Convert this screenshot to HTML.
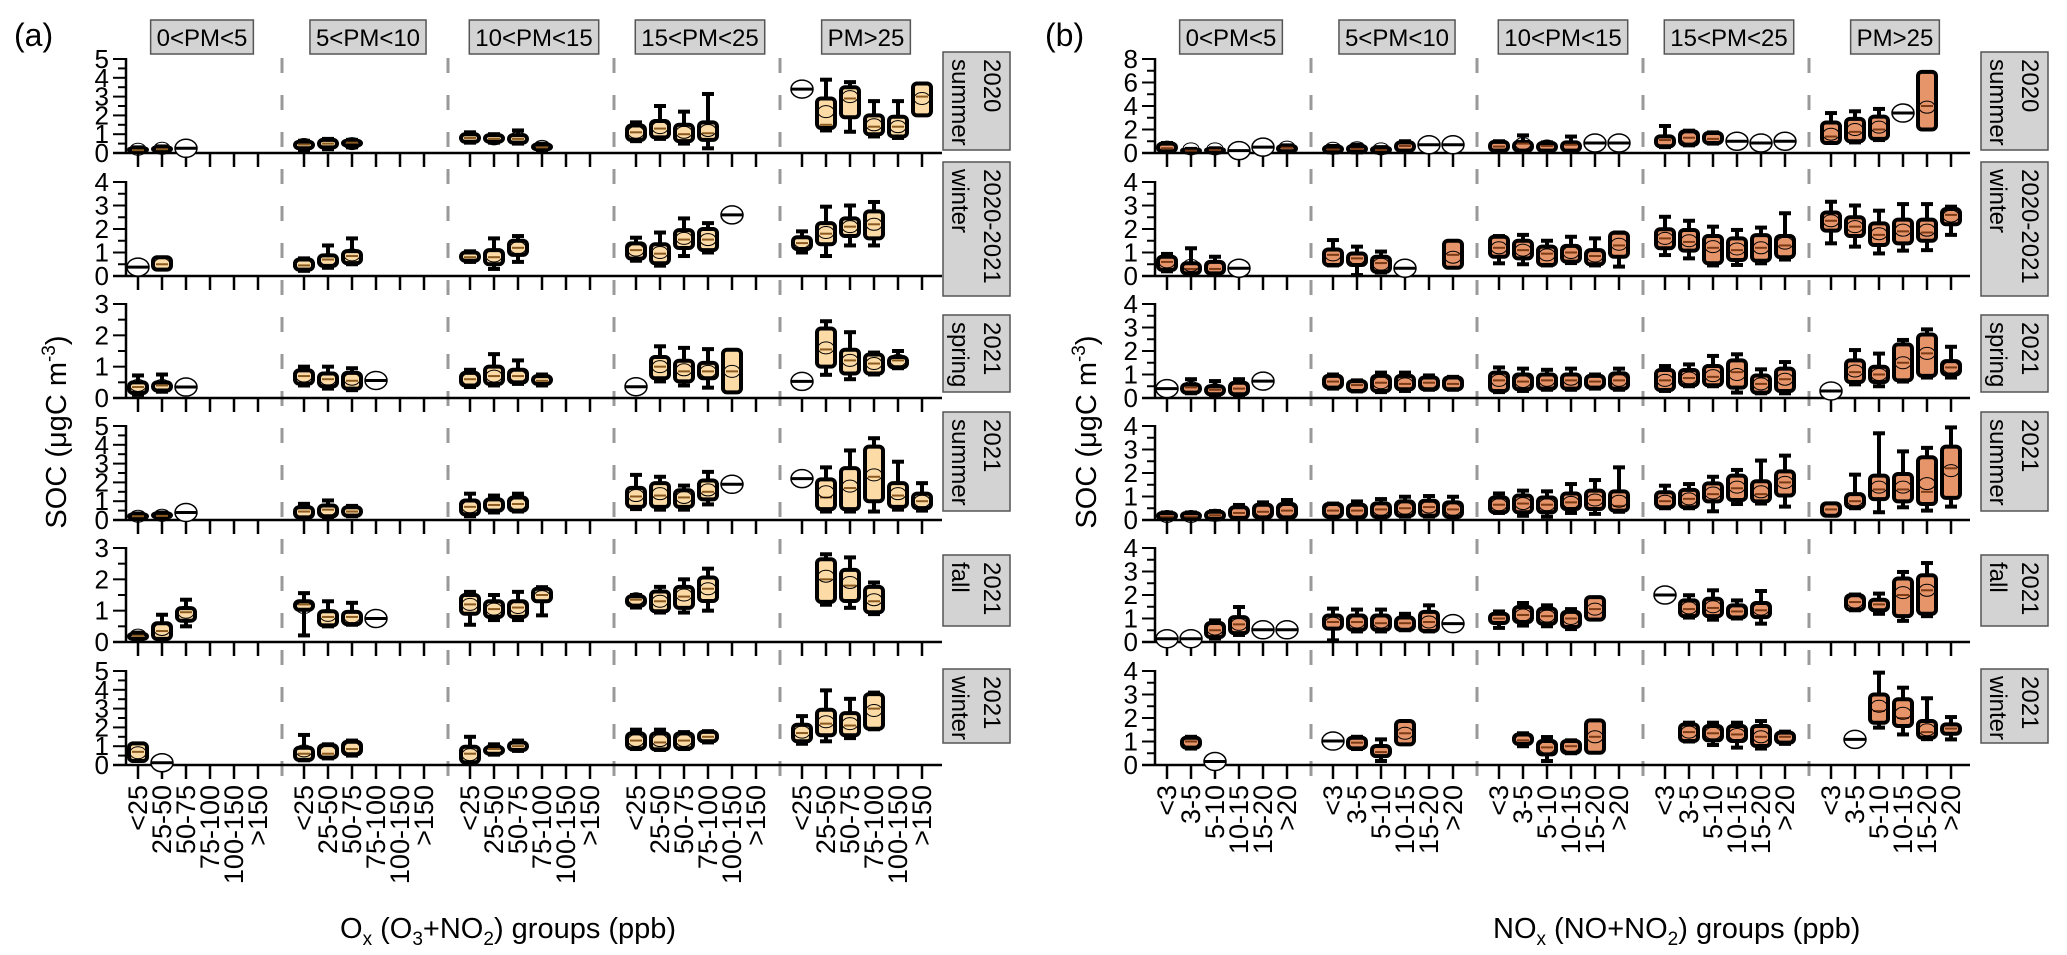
<!DOCTYPE html>
<html><head><meta charset="utf-8"><title>SOC box plots</title>
<style>
html,body{margin:0;padding:0;background:#fff;}
svg{display:block;font-family:"Liberation Sans",Arial,sans-serif;}
</style></head>
<body>
<svg id="chart" width="2067" height="955" viewBox="0 0 2067 955" xmlns="http://www.w3.org/2000/svg">
<text x="14" y="46" font-size="32">(a)</text>
<text x="1045" y="46" font-size="32">(b)</text>
<text transform="translate(66,432) rotate(-90)" font-size="29" text-anchor="middle">SOC (μgC m<tspan dy="-11" font-size="19">-3</tspan><tspan dy="11">)</tspan></text>
<text transform="translate(1096,432) rotate(-90)" font-size="29" text-anchor="middle">SOC (μgC m<tspan dy="-11" font-size="19">-3</tspan><tspan dy="11">)</tspan></text>
<text x="340" y="938" font-size="29">O<tspan dy="7" font-size="19">x</tspan><tspan dy="-7"> (O</tspan><tspan dy="7" font-size="19">3</tspan><tspan dy="-7">+NO</tspan><tspan dy="7" font-size="19">2</tspan><tspan dy="-7">) groups (ppb)</tspan></text>
<text x="1493" y="938" font-size="29">NO<tspan dy="7" font-size="19">x</tspan><tspan dy="-7"> (NO+NO</tspan><tspan dy="7" font-size="19">2</tspan><tspan dy="-7">) groups (ppb)</tspan></text>
</svg>
<script>
// ---------- data ----------
const pmGroups = ["0<PM<5","5<PM<10","10<PM<15","15<PM<25","PM>25"];
const oxCats = ["<25","25-50","50-75","75-100","100-150",">150"];
const noxCats = ["<3","3-5","5-10","10-15","15-20",">20"];
const seasonLine1 = ["2020","2020-2021","2021","2021","2021","2021"];
const seasonLine2 = ["summer","winter","spring","summer","fall","winter"];
const yMaxA = [5,4,3,5,3,5];
const yMaxB = [8,4,4,4,4,4];
// each box: [lowWhisker, q1, median, q3, highWhisker, mean]; number = single point
const a_summer2020 = [
 [[0.05,0.1,0.15,0.25,0.3,0.2],[0.05,0.12,0.2,0.3,0.35,0.25],0.25,null,null,null],
 [[0.15,0.25,0.45,0.6,0.65,0.45],[0.2,0.3,0.5,0.7,0.75,0.5],[0.3,0.4,0.55,0.65,0.7,0.5],null,null,null],
 [[0.55,0.6,0.8,1.0,1.1,0.8],[0.55,0.6,0.75,0.95,1.0,0.75],[0.5,0.55,0.75,0.95,1.2,0.8],[0.15,0.2,0.3,0.45,0.5,0.35],null,null],
 [[0.63,0.7,1.1,1.46,1.63,1.1],[0.75,0.83,1.3,1.7,2.5,1.35],[0.5,0.63,1.0,1.5,2.2,1.1],[0.25,0.7,1.05,1.63,3.14,1.2],null,null],
 [3.4,[1.2,1.33,1.5,2.9,3.9,2.2],[1.13,1.9,2.9,3.5,3.77,3.0],[0.88,1.0,1.4,2.0,2.76,1.5],[0.8,0.88,1.4,1.93,2.76,1.4],[null,2.0,3.0,3.7,null,2.9]]
];
const a_winter2020 = [
 [0.38,[null,0.27,0.5,0.8,null,0.5],null,null,null,null],
 [[0.22,0.27,0.45,0.7,0.75,0.45],[0.35,0.43,0.7,0.88,1.3,0.7],[0.5,0.55,0.85,1.06,1.6,0.9],null,null,null],
 [[0.6,0.65,0.8,1.0,1.05,0.8],[0.3,0.5,0.8,1.1,1.6,0.85],[0.6,0.9,1.2,1.5,1.7,1.2],null,null,null],
 [[0.65,0.74,1.1,1.39,1.63,1.1],[0.44,0.54,0.95,1.35,1.85,1.0],[0.85,1.19,1.55,1.95,2.45,1.6],[1.0,1.1,1.55,2.0,2.25,1.55],2.6,null],
 [[1.0,1.15,1.4,1.65,1.9,1.45],[0.85,1.35,1.8,2.25,2.95,1.85],[1.3,1.7,2.1,2.45,3.0,2.1],[1.3,1.6,2.2,2.75,3.15,2.2],null,null]
];
const a_spring2021 = [
 [[0.1,0.16,0.35,0.5,0.72,0.4],[0.2,0.24,0.4,0.5,0.75,0.4],0.35,null,null,null],
 [[0.4,0.46,0.7,0.88,1.0,0.7],[0.3,0.37,0.6,0.78,1.0,0.6],[0.25,0.3,0.55,0.8,0.95,0.6],0.56,null,null],
 [[0.35,0.4,0.6,0.8,0.9,0.6],[0.4,0.45,0.7,1.0,1.4,0.7],[0.45,0.5,0.7,0.9,1.2,0.7],[0.4,0.45,0.55,0.7,0.75,0.55],null,null],
 [0.36,[0.53,0.63,1.0,1.31,1.65,1.0],[0.4,0.53,0.85,1.19,1.6,0.9],[0.33,0.63,0.85,1.12,1.56,0.85],[null,0.18,0.85,1.54,null,0.85],null],
 [0.53,[0.74,1.0,1.55,2.22,2.45,1.6],[0.6,0.78,1.2,1.54,2.1,1.2],[0.75,0.78,1.1,1.39,1.45,1.1],[0.95,0.98,1.2,1.31,1.5,1.2],null]
];
const a_summer2021 = [
 [[0.05,0.1,0.2,0.3,0.35,0.2],[0.08,0.15,0.22,0.35,0.4,0.25],0.4,null,null,null],
 [[0.1,0.14,0.45,0.68,0.86,0.45],[0.15,0.2,0.55,0.77,1.04,0.55],[0.2,0.23,0.45,0.68,0.75,0.45],null,null,null],
 [[0.2,0.3,0.7,1.04,1.4,0.7],[0.4,0.5,0.8,1.1,1.3,0.8],[0.45,0.5,0.85,1.2,1.4,0.85],null,null,null],
 [[0.58,0.7,1.25,1.71,2.4,1.3],[0.55,0.7,1.3,1.96,2.3,1.4],[0.55,0.7,1.2,1.58,1.83,1.2],[0.83,1.1,1.5,2.1,2.56,1.6],1.9,null],
 [2.2,[0.45,0.58,1.2,2.16,2.8,1.5],[0.45,0.58,1.7,2.76,3.7,1.8],[0.45,1.0,2.3,3.9,4.35,2.4],[0.55,0.7,1.3,1.96,3.1,1.4],[0.5,0.63,1.0,1.4,1.96,1.0]]
];
const a_fall2021 = [
 [[0.08,0.1,0.2,0.26,0.3,0.22],[0.05,0.1,0.35,0.6,0.87,0.4],[0.5,0.68,0.95,1.08,1.35,0.95],null,null,null],
 [[0.21,1.03,1.2,1.3,1.56,1.1],[0.5,0.53,0.8,0.98,1.3,0.85],[0.55,0.57,0.8,0.96,1.25,0.8],0.75,null,null],
 [[0.55,0.9,1.2,1.5,1.6,1.2],[0.7,0.8,1.05,1.3,1.5,1.05],[0.7,0.8,1.1,1.3,1.6,1.1],[0.85,1.3,1.5,1.7,1.75,1.45],null,null],
 [[1.1,1.16,1.35,1.46,1.5,1.38],[0.94,0.98,1.3,1.61,1.76,1.3],[0.94,1.09,1.45,1.76,2.0,1.5],[1.0,1.31,1.7,2.06,2.34,1.7],null,null],
 [null,[1.19,1.28,2.0,2.64,2.8,2.1],[1.09,1.31,1.8,2.3,2.7,1.9],[0.89,0.95,1.3,1.76,1.9,1.35],null,null]
];
const a_winter2021 = [
 [[null,0.21,0.7,1.15,null,0.65],0.12,null,null,null,null],
 [[0.25,0.27,0.6,0.92,1.6,0.75],[0.35,0.39,0.6,1.06,1.1,0.7],[0.5,0.57,0.85,1.24,1.3,0.9],null,null,null],
 [[0.1,0.14,0.6,0.97,1.5,0.55],[0.55,0.6,0.85,0.95,1.1,0.85],[0.75,0.8,1.0,1.2,1.3,1.0],null,null,null],
 [[0.85,0.88,1.3,1.68,1.88,1.3],[0.8,0.83,1.2,1.68,1.88,1.3],[0.85,0.88,1.3,1.68,1.75,1.3],[1.2,1.26,1.5,1.76,1.8,1.5],null,null],
 [[1.13,1.26,1.7,2.14,2.6,1.75],[1.26,1.58,2.2,2.94,3.97,2.3],[1.43,1.58,2.1,2.76,3.52,2.2],[1.9,1.93,3.0,3.77,3.85,2.9],null,null]
];
const b_summer2020 = [
 [[0.1,0.14,0.4,0.8,0.85,0.5],[0.05,0.1,0.2,0.3,0.35,0.35],[0.05,0.1,0.25,0.35,0.4,0.35],0.2,0.5,[0.1,0.15,0.45,0.6,0.65,0.5]],
 [[0.05,0.1,0.3,0.55,0.6,0.4],[0.05,0.1,0.35,0.6,0.7,0.45],[0.05,0.1,0.25,0.45,0.5,0.35],[0.15,0.2,0.6,0.9,1.0,0.6],0.7,0.7],
 [[0.15,0.2,0.55,0.95,1.0,0.6],[0.15,0.2,0.8,0.95,1.5,0.8],[0.15,0.2,0.6,0.85,0.9,0.6],[0.1,0.2,0.7,0.9,1.4,0.5],0.85,0.85],
 [[0.5,0.57,1.1,1.42,2.3,1.0],[0.65,0.71,1.3,1.84,1.9,1.3],[0.8,0.85,1.2,1.7,1.75,1.3],1.0,0.85,1.0],
 [[0.85,0.85,1.4,2.6,3.4,1.6],[0.9,1.0,1.8,2.9,3.55,2.0],[1.1,1.2,2.0,3.1,3.75,2.2],3.4,[null,2.0,4.0,6.9,null,3.9],null]
];
const b_winter2020 = [
 [[0.2,0.26,0.6,0.82,0.94,0.6],[0.1,0.11,0.3,0.54,1.18,0.45],[0.1,0.11,0.3,0.6,0.82,0.35],0.33,null,null],
 [[0.45,0.47,0.9,1.13,1.53,0.9],[0.04,0.47,0.75,0.96,1.25,0.75],[0.15,0.18,0.55,0.82,1.04,0.5],0.33,null,[null,0.35,0.9,1.5,null,0.8]],
 [[0.54,0.82,1.2,1.67,1.7,1.2],[0.5,0.75,1.1,1.5,1.75,1.1],[0.45,0.47,0.95,1.25,1.5,0.9],[0.55,0.61,1.0,1.28,1.67,1.0],[0.45,0.5,0.85,1.1,1.6,0.85],[0.4,0.82,1.3,1.84,1.85,1.35]],
 [[0.89,1.18,1.6,1.99,2.52,1.6],[0.75,1.08,1.45,1.96,2.35,1.5],[0.45,0.54,1.2,1.7,2.1,1.25],[0.47,0.68,1.1,1.6,1.96,1.15],[0.54,0.65,1.2,1.74,2.06,1.2],[0.7,0.8,1.3,1.7,2.67,1.4]],
 [[1.39,1.93,2.35,2.7,3.16,2.35],[1.25,1.7,2.1,2.5,3.0,2.1],[0.96,1.32,1.75,2.24,2.78,1.8],[1.08,1.39,1.9,2.4,3.06,1.95],[1.1,1.5,1.85,2.4,3.06,1.95],[1.75,2.2,2.6,2.85,2.95,2.55]]
];
const b_spring2021 = [
 [0.4,[0.2,0.23,0.45,0.58,0.8,0.45],[0.1,0.16,0.35,0.5,0.72,0.35],[0.12,0.16,0.4,0.65,0.8,0.4],0.72,null],
 [[0.4,0.44,0.7,0.94,1.0,0.7],[0.28,0.3,0.55,0.72,0.75,0.55],[0.25,0.3,0.65,0.94,1.08,0.65],[0.3,0.37,0.6,0.94,1.08,0.6],[0.35,0.37,0.65,0.87,0.96,0.65],[0.35,0.37,0.6,0.87,0.9,0.6]],
 [[0.25,0.3,0.75,1.08,1.3,0.75],[0.3,0.37,0.7,1.0,1.25,0.7],[0.35,0.4,0.75,1.0,1.2,0.75],[0.35,0.4,0.75,1.0,1.25,0.8],[0.4,0.44,0.7,0.94,1.0,0.7],[0.35,0.4,0.75,1.05,1.25,0.75]],
 [[0.3,0.34,0.75,1.19,1.36,0.75],[0.5,0.54,0.85,1.19,1.43,0.85],[0.5,0.54,0.9,1.36,1.79,0.95],[0.23,0.44,1.1,1.6,1.86,1.0],[0.2,0.23,0.6,0.96,1.22,0.6],[0.2,0.3,0.8,1.25,1.53,0.8]],
 [0.3,[0.58,0.68,1.1,1.6,2.04,1.15],[0.5,0.68,1.0,1.33,1.89,1.0],[0.7,0.75,1.5,2.28,2.47,1.5],[0.87,0.94,1.9,2.7,2.92,1.9],[0.87,1.0,1.3,1.57,2.18,1.3]]
];
const b_summer2021 = [
 [[0.03,0.05,0.15,0.3,0.32,0.15],[0.03,0.05,0.15,0.3,0.32,0.15],[0.03,0.05,0.2,0.35,0.38,0.2],[0.07,0.09,0.3,0.54,0.64,0.3],[0.09,0.11,0.35,0.65,0.75,0.4],[0.09,0.11,0.4,0.68,0.85,0.4]],
 [[0.12,0.14,0.4,0.68,0.7,0.4],[0.09,0.11,0.4,0.65,0.79,0.4],[0.12,0.14,0.45,0.71,0.89,0.45],[0.15,0.18,0.5,0.79,0.99,0.5],[0.15,0.18,0.55,0.82,1.02,0.55],[0.12,0.14,0.45,0.75,0.99,0.45]],
 [[0.3,0.33,0.65,0.96,1.13,0.65],[0.18,0.33,0.7,1.04,1.25,0.7],[0.14,0.33,0.65,0.96,1.22,0.65],[0.3,0.47,0.75,1.13,1.53,0.75],[0.26,0.47,0.85,1.25,1.7,0.85],[0.35,0.4,0.6,1.22,2.24,0.8]],
 [[0.5,0.54,0.8,1.18,1.46,0.8],[0.5,0.54,0.9,1.28,1.53,0.9],[0.37,0.79,1.1,1.56,1.84,1.15],[0.68,0.85,1.35,1.89,2.13,1.4],[0.7,0.79,1.1,1.65,2.53,1.2],[0.57,1.04,1.6,2.07,2.74,1.6]],
 [[null,0.18,0.45,0.71,null,0.45],[0.5,0.54,0.8,1.1,1.93,0.85],[0.33,0.89,1.3,1.89,3.69,1.4],[0.54,0.79,1.3,1.96,2.92,1.4],[0.4,0.68,1.2,2.67,3.07,1.55],[0.57,0.94,2.2,3.12,3.94,2.1]]
];
const b_fall2021 = [
 [0.14,0.14,[0.15,0.21,0.5,0.81,0.92,0.55],[0.3,0.38,0.75,1.06,1.49,0.75],0.52,0.52],
 [[0.07,0.57,0.85,1.13,1.42,0.8],[0.45,0.52,0.85,1.13,1.38,0.85],[0.45,0.52,0.8,1.13,1.38,0.85],[0.5,0.52,0.8,1.04,1.2,0.8],[0.45,0.47,0.85,1.28,1.56,0.85],0.78],
 [[0.6,0.81,1.0,1.2,1.3,1.0],[0.7,0.85,1.15,1.49,1.66,1.15],[0.67,0.78,1.1,1.42,1.56,1.1],[0.55,0.64,1.0,1.28,1.4,1.0],[null,0.95,1.4,1.91,null,1.4],null],
 [2.0,[1.04,1.1,1.4,1.77,1.99,1.45],[0.95,1.1,1.45,1.84,2.2,1.5],[1.0,1.04,1.3,1.56,1.77,1.3],[0.78,1.06,1.35,1.66,2.17,1.4],null],
 [null,[1.35,1.38,1.7,1.99,2.02,1.7],[1.2,1.35,1.6,1.8,2.06,1.6],[0.9,1.1,2.0,2.7,2.98,2.1],[1.1,1.2,2.2,2.84,3.36,2.2],null]
];
const b_winter2021 = [
 [null,[0.7,0.74,1.0,1.16,1.2,1.0],0.15,null,null,null],
 [1.02,[0.68,0.71,0.95,1.16,1.2,0.95],[0.17,0.38,0.55,0.81,1.09,0.6],[null,0.88,1.35,1.87,null,1.35],null,null],
 [null,[0.8,0.9,1.05,1.3,1.35,1.05],[0.17,0.45,0.75,1.02,1.19,0.75],[0.5,0.52,0.8,1.02,1.05,0.8],[null,0.52,1.2,1.9,null,1.2],null],
 [null,[1.0,1.02,1.4,1.73,1.8,1.4],[0.85,1.05,1.35,1.66,1.8,1.35],[0.74,1.02,1.3,1.66,1.8,1.3],[0.7,0.81,1.2,1.66,1.87,1.2],[0.9,0.95,1.2,1.38,1.42,1.2]],
 [null,1.09,[1.59,1.8,2.3,3.0,3.93,2.5],[1.3,1.66,2.0,2.8,3.29,2.2],[1.1,1.16,1.4,1.87,2.84,1.5],[1.09,1.33,1.55,1.73,2.04,1.55]]
];
const panelAData = [a_summer2020,a_winter2020,a_spring2021,a_summer2021,a_fall2021,a_winter2021];
const panelBData = [b_summer2020,b_winter2020,b_spring2021,b_summer2021,b_fall2021,b_winter2021];

// ---------- layout ----------
const NS = "http://www.w3.org/2000/svg";
const svg = document.getElementById("chart");
const rowBase = [153,276,398,520,642,765];
const rowH = 94;
const stripY = [[52,150],[162,296],[315,392],[412,511],[555,626],[669,743]];
const groupW = 166, catW = 24;

function mk(tag, attrs, parent){
  const e = document.createElementNS(NS, tag);
  for (const k in attrs) e.setAttribute(k, attrs[k]);
  (parent||svg).appendChild(e);
  return e;
}

function drawPanel(p){
  const pg = mk("g", {});
  
  
  const xOf = (g,c) => p.tick0 + g*groupW + c*catW;
  for (let k=0;k<4;k++){
    const sx = p.tick0 + k*groupW + 6*catW;
    const s = mk("line",{x1:sx,x2:sx,y1:58,y2:784,stroke:"#999","stroke-width":3,"stroke-dasharray":"15,22"},pg);
    
    
  }
  pmGroups.forEach((gname,g)=>{
    const cx = xOf(g,0) + 2.5*catW + 4;
    const hg = mk("g",{},pg);
    
    
    const r = mk("rect",{y:20,height:34,fill:"#d3d3d3",stroke:"#555","stroke-width":1.5},hg);
    const t = mk("text",{x:cx,y:46,"font-size":24,"text-anchor":"middle"},hg);
    t.textContent = gname;
    const w = t.getComputedTextLength() + 12;
    r.setAttribute("x", cx - w/2); r.setAttribute("width", w);
  });
  for (let r=0;r<6;r++){
    const base = rowBase[r], ymax = p.ymax[r];
    const yOf = v => base - v/ymax*rowH;
    const rg = mk("g",{},pg);
    
    
    const ya = mk("line",{x1:p.axisX,x2:p.axisX,y1:base-rowH-1,y2:base,stroke:"#000","stroke-width":2.5},rg);
    
    
    const major = ymax>5 ? 2 : 1;
    const minor = major/2;
    for (let v=0; v<=ymax+1e-9; v+=minor){
      const isMajor = Math.abs(v/major - Math.round(v/major))<1e-6;
      const yy = yOf(v);
      mk("line",{x1:p.axisX-(isMajor?13:8),x2:p.axisX,y1:yy,y2:yy,stroke:"#000","stroke-width":2},rg);
      if (isMajor){
        const tl = mk("text",{x:p.axisX-17,y:yy+9,"font-size":26,"text-anchor":"end"},rg);
        
        
        tl.textContent = String(Math.round(v));
      }
    }
    const xa = mk("line",{x1:p.axisX-13,x2:p.xEnd,y1:base,y2:base,stroke:"#000","stroke-width":2.5},rg);
    
    
    for (let g=0; g<5; g++) for (let c=0;c<6;c++){
      const x = xOf(g,c);
      mk("line",{x1:x,x2:x,y1:base,y2:base+14,stroke:"#000","stroke-width":2.5},rg);
    }
    const [sy0, sy1] = stripY[r];
    const sg = mk("g",{},rg);
    
    
    mk("rect",{x:p.stripX,y:sy0,width:67,height:sy1-sy0,fill:"#d3d3d3",stroke:"#555","stroke-width":1.5},sg);
    const t1 = mk("text",{transform:`translate(${p.stripX+67-26},${sy0+7}) rotate(90)`,"font-size":24},sg);
    t1.textContent = seasonLine1[r];
    const t2 = mk("text",{transform:`translate(${p.stripX+67-58},${sy0+7}) rotate(90)`,"font-size":24},sg);
    t2.textContent = seasonLine2[r];
    const rowData = p.data[r];
    for (let g=0; g<5; g++) for (let c=0;c<6;c++){
      const d = rowData[g][c];
      if (d===null || d===undefined) continue;
      const cx = xOf(g,c);
      const bg = mk("g",{},rg);
      
      
      if (typeof d === "number"){
        const yy = yOf(d);
        mk("ellipse",{cx:cx,cy:yy,rx:11,ry:9,fill:"#fff",stroke:"#000","stroke-width":1.5},bg);
        mk("line",{x1:cx-11,x2:cx+11,y1:yy,y2:yy,stroke:"#000","stroke-width":3},bg);
        continue;
      }
      const [lo,q1,med,q3,hi,mean] = d;
      const yq1 = yOf(q1), yq3 = yOf(q3);
      if (hi!==null){
        mk("line",{x1:cx,x2:cx,y1:yOf(hi),y2:yq3,stroke:"#000","stroke-width":4},bg);
        mk("line",{x1:cx-6,x2:cx+6,y1:yOf(hi),y2:yOf(hi),stroke:"#000","stroke-width":4},bg);
      }
      if (lo!==null){
        mk("line",{x1:cx,x2:cx,y1:yq1,y2:yOf(lo),stroke:"#000","stroke-width":4},bg);
        mk("line",{x1:cx-6,x2:cx+6,y1:yOf(lo),y2:yOf(lo),stroke:"#000","stroke-width":4},bg);
      }
      mk("rect",{x:cx-9,y:yq3,width:18,height:Math.max(yq1-yq3,1.5),rx:4,fill:p.fill,stroke:"#000","stroke-width":4},bg);
      const ym = yOf(med);
      mk("line",{x1:cx-6,x2:cx+6,y1:ym,y2:ym,stroke:p.medColor,"stroke-width":2},bg);
      mk("ellipse",{cx:cx,cy:yOf(mean),rx:8,ry:6,fill:"none",stroke:"#000","stroke-width":1},bg);
    }
  }
  for (let g=0; g<5; g++) for (let c=0;c<6;c++){
    const x = xOf(g,c);
    const t = mk("text",{transform:`translate(${x+9},785) rotate(-90)`,"font-size":27,"text-anchor":"end"},pg);
    
    
    t.textContent = p.cats[c];
  }
}

drawPanel({name:"panel-a-ox", axisX:126, tick0:138, xEnd:942, stripX:943, ymax:yMaxA, data:panelAData, cats:oxCats, fill:"#FDDBA6", medColor:"#8a5a20"});
drawPanel({name:"panel-b-nox", axisX:1155, tick0:1167, xEnd:1970, stripX:1981, ymax:yMaxB, data:panelBData, cats:noxCats, fill:"#E6946A", medColor:"#7a3a15"});
</script>
</body></html>
